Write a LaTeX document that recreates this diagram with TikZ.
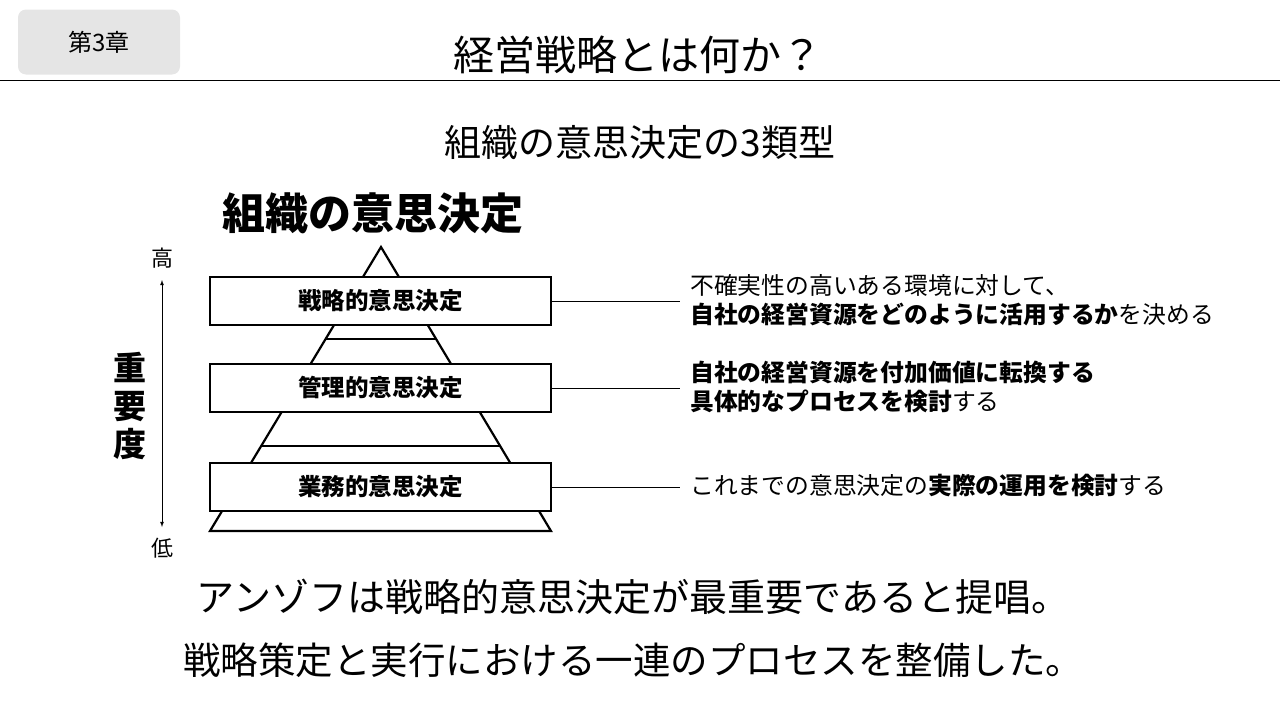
\documentclass[tikz,border=0pt]{standalone}
\usepackage{fontspec}
\usetikzlibrary{calc}
\setmainfont{Noto Sans CJK JP}
\begin{document}
\begin{tikzpicture}[x=1pt,y=-1pt,
  lvl/.style={draw,line width=2.2pt,fill=white,minimum width=341pt,minimum height=48pt,inner sep=0pt,font=\fontsize{23.5}{23.5}\selectfont\bfseries},
  desc/.style={anchor=west,inner sep=0pt,font=\fontsize{23.8}{23.8}\selectfont},
  conn/.style={line width=0.8pt}]
\useasboundingbox (0,0) rectangle (1280,720);
\node[fill=black!10,rounded corners=8pt,minimum width=162pt,minimum height=65pt] (hdr) at (99,42) {};
\node[font=\fontsize{24}{24}\selectfont] (ch) at (99,42) {第3章};
\node[font=\fontsize{41}{41}\selectfont] (title) at (638,55) {経営戦略とは何か？};
\draw[line width=0.8pt] (0,80) coordinate (hl) -- (1280,80) coordinate (hr);
\node[font=\fontsize{37}{37}\selectfont] (sub) at (640,143) {組織の意思決定の3類型};
\node[font=\fontsize{43}{43}\selectfont\bfseries] (hd) at (373,213) {組織の意思決定};
\coordinate (apex) at (381,247);
\coordinate (bl) at (210,531);
\coordinate (br) at (551,531);
\draw[line width=2.2pt,line join=miter] (apex) -- (bl) -- (br) -- cycle;
\draw[line width=2.2pt] ($(apex)!0.324!(bl)$) -- ($(apex)!0.324!(br)$);
\draw[line width=2.2pt] ($(apex)!0.70!(bl)$) -- ($(apex)!0.70!(br)$);
\node[lvl] (b1) at (380.5,301) {戦略的意思決定};
\node[lvl] (b2) at (380.5,388) {管理的意思決定};
\node[lvl] (b3) at (380.5,487) {業務的意思決定};
\coordinate (e1) at (680,301);
\coordinate (e2) at (680,388);
\coordinate (e3) at (680,487);
\draw[conn] (b1.east) -- (e1);
\draw[conn] (b2.east) -- (e2);
\draw[conn] (b3.east) -- (e3);
\node[desc] (t1a) at (690,285) {不確実性の高いある環境に対して、};
\node[desc] (t1b) at (690,314) {\textbf{自社の経営資源をどのように活用するか}を決める};
\node[desc] (t2a) at (690,372) {\textbf{自社の経営資源を付加価値に転換する}};
\node[desc] (t2b) at (690,401) {\textbf{具体的なプロセスを検討}する};
\node[desc] (t3) at (690,486) {これまでの意思決定の\textbf{実際の運用を検討}する};
\node[font=\fontsize{22}{22}\selectfont] (hi) at (162,258) {高};
\node[font=\fontsize{22}{22}\selectfont] (lo) at (162,548) {低};
\coordinate (at) at (162,280);
\coordinate (ab) at (162,527);
\draw[line width=0.8pt,latex-latex] (at) -- (ab);
\node[font=\fontsize{33}{38}\selectfont\bfseries,align=center] (imp) at (130,406) {重\\要\\度};
\node[font=\fontsize{38}{38}\selectfont] (c1) at (633,597) {アンゾフは戦略的意思決定が最重要であると提唱。};
\node[font=\fontsize{37.5}{37.5}\selectfont] (c2) at (633,660) {戦略策定と実行における一連のプロセスを整備した。};
\end{tikzpicture}
\end{document}
